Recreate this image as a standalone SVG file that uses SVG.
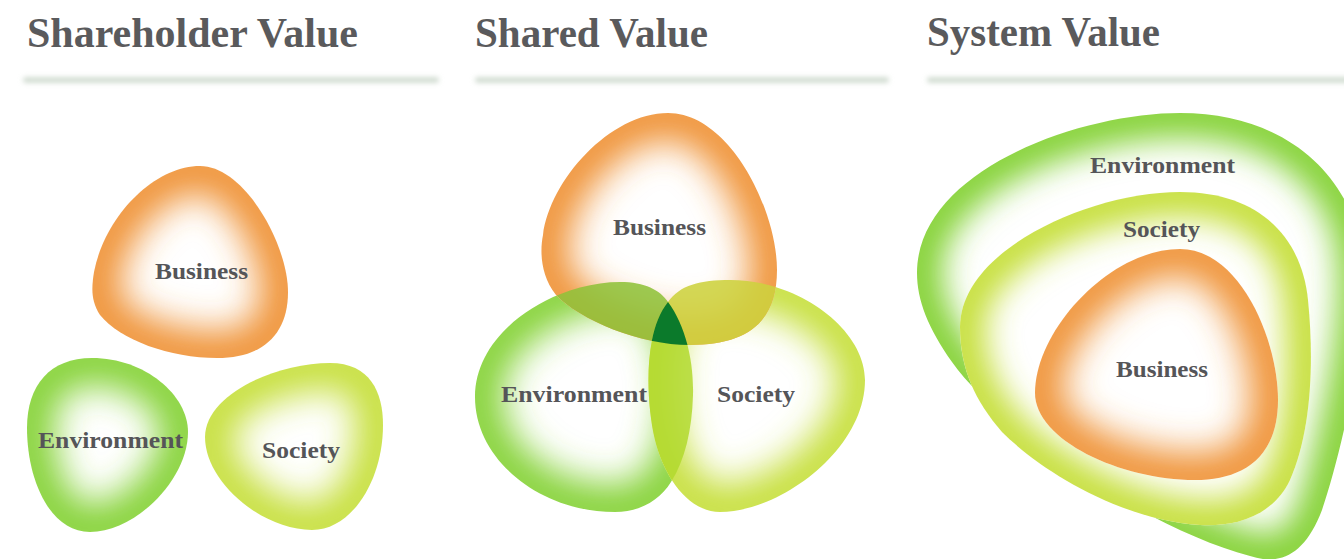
<svg xmlns="http://www.w3.org/2000/svg" width="1344" height="559" viewBox="0 0 1344 559">
<style>
.title{font-family:"Liberation Serif","Times New Roman",serif;font-weight:bold;font-size:43px;fill:#5a5a5c}
.lbl{font-family:"Liberation Serif","Times New Roman",serif;font-weight:bold;font-size:24px;fill:#555558}
.bar{fill:#d2ddd2;filter:url(#blur)}
.base{fill:#ffffff}
.eO{fill:none;stroke:#ef9236;stroke-width:54;filter:url(#glow)}
.eE{fill:none;stroke:#84d236;stroke-width:54;filter:url(#glow)}
.eS{fill:none;stroke:#c6df3a;stroke-width:54;filter:url(#glow)}
.eE3{fill:none;stroke:#84d236;stroke-width:50;filter:url(#glow3)}
.eS3{fill:none;stroke:#c6df3a;stroke-width:50;filter:url(#glow3)}
</style>
<defs>
<filter id="blur" filterUnits="userSpaceOnUse" x="0" y="60" width="1344" height="40"><feGaussianBlur stdDeviation="2.5"/></filter>
<filter id="glow" filterUnits="userSpaceOnUse" x="-100" y="-100" width="1544" height="759"><feGaussianBlur stdDeviation="18"/></filter>
<filter id="glow3" filterUnits="userSpaceOnUse" x="-100" y="-100" width="1544" height="759"><feGaussianBlur stdDeviation="16"/></filter>
<path id="p1B" d="M 200,166 C 245,166 288,245 288,292 C 288,335 262,358 217,358 C 170,358 120,340 100,315 C 90,300 92,285 94,272 C 105,215 155,166 200,166 Z"/>
<path id="p1E" d="M 92,358 C 145,358 188,395 188,432 C 188,480 135,532 90,532 C 50,532 27,480 27,428 C 27,385 50,358 92,358 Z"/>
<path id="p1S" d="M 205,437 C 205,395 275,363 330,363 C 370,363 383,392 383,425 C 383,480 352,530 312,530 C 262,530 205,482 205,437 Z"/>
<path id="pB2" d="M 668,113 C 730,113 777,210 777,270 C 777,320 750,345 690,345 C 640,345 580,320 556,295 C 540,275 540,250 543,235 C 550,180 610,113 668,113 Z"/>
<path id="pE2" d="M 475,397 C 475,330 555,282 620,282 C 645,282 660,290 668,302 C 685,325 694,360 693,395 C 692,430 685,460 671,482 C 660,500 640,512 615,512 C 540,512 475,460 475,397 Z"/>
<path id="pS2" d="M 668,302 C 680,285 700,280 730,280 C 800,280 865,330 865,380 C 865,450 780,512 720,512 C 690,512 665,480 655,440 C 648,410 646,370 652,340 C 655,325 660,312 668,302 Z"/>
<path id="p3E" d="M 917,273 C 917,170 1080,113 1180,113 C 1285,113 1352,175 1362,255 C 1370,330 1342,450 1322,510 C 1305,555 1280,566 1250,556 C 1150,530 1000,430 952,362 C 928,328 917,300 917,273 Z"/>
<path id="p3S" d="M 960,327 C 960,250 1090,192 1180,192 C 1262,192 1302,240 1308,300 C 1314,360 1312,430 1290,480 C 1272,518 1232,527 1200,525 C 1120,520 1040,470 1002,432 C 976,402 960,370 960,327 Z"/>
<path id="p3B" d="M 1180,249 C 1240,249 1278,340 1278,400 C 1278,460 1240,480 1195,480 C 1120,480 1035,440 1035,393 C 1035,330 1110,249 1180,249 Z"/>
<clipPath id="c1B"><use href="#p1B"/></clipPath>
<clipPath id="c1E"><use href="#p1E"/></clipPath>
<clipPath id="c1S"><use href="#p1S"/></clipPath>
<clipPath id="cB2"><use href="#pB2"/></clipPath>
<clipPath id="cE2"><use href="#pE2"/></clipPath>
<clipPath id="cS2"><use href="#pS2"/></clipPath>
<clipPath id="c3E"><use href="#p3E"/></clipPath>
<clipPath id="c3S"><use href="#p3S"/></clipPath>
<clipPath id="c3B"><use href="#p3B"/></clipPath>
</defs>

<g id="titles">
<text class="title" x="27" y="47" textLength="331" lengthAdjust="spacingAndGlyphs">Shareholder Value</text>
<text class="title" x="475" y="47" textLength="233" lengthAdjust="spacingAndGlyphs">Shared Value</text>
<text class="title" x="927" y="46" textLength="233" lengthAdjust="spacingAndGlyphs">System Value</text>
<rect class="bar" x="23" y="77" width="416" height="6" rx="3"/>
<rect class="bar" x="475" y="77" width="414" height="6" rx="3"/>
<rect class="bar" x="927" y="77" width="430" height="6" rx="3"/>
</g>

<!-- Panel 1 -->
<g id="sh-business">
<use href="#p1B" class="base"/>
<g clip-path="url(#c1B)"><use href="#p1B" class="eO"/></g>
<text class="lbl" x="155" y="279" textLength="93" lengthAdjust="spacingAndGlyphs">Business</text>
</g>
<g id="sh-environment">
<use href="#p1E" class="base"/>
<g clip-path="url(#c1E)"><use href="#p1E" class="eE"/></g>
<text class="lbl" x="38" y="448" textLength="145" lengthAdjust="spacingAndGlyphs">Environment</text>
</g>
<g id="sh-society">
<use href="#p1S" class="base"/>
<g clip-path="url(#c1S)"><use href="#p1S" class="eS"/></g>
<text class="lbl" x="262" y="458" textLength="78" lengthAdjust="spacingAndGlyphs">Society</text>
</g>

<!-- Panel 2 -->
<g id="sv-environment">
<use href="#pE2" class="base"/>
<g clip-path="url(#cE2)"><use href="#pE2" class="eE"/></g>
</g>
<g id="sv-society">
<use href="#pS2" class="base"/>
<g clip-path="url(#cS2)"><use href="#pS2" class="eS"/></g>
</g>
<g id="sv-business">
<use href="#pB2" class="base"/>
<g clip-path="url(#cB2)"><use href="#pB2" class="eO"/></g>
</g>
<g id="sv-overlaps">
<g clip-path="url(#cE2)"><use href="#pS2" fill="#b2d92e" opacity="0.85"/></g>
<g clip-path="url(#cB2)"><use href="#pE2" fill="#90c23a" opacity="0.88"/></g>
<g clip-path="url(#cB2)"><use href="#pS2" fill="#cdd23e" opacity="0.88"/></g>
<g clip-path="url(#cB2)"><g clip-path="url(#cE2)"><use href="#pS2" fill="#0b7a2b"/></g></g>
</g>
<g id="sv-labels">
<text class="lbl" x="613" y="235" textLength="93" lengthAdjust="spacingAndGlyphs">Business</text>
<text class="lbl" x="501" y="402" textLength="146" lengthAdjust="spacingAndGlyphs">Environment</text>
<text class="lbl" x="717" y="402" textLength="78" lengthAdjust="spacingAndGlyphs">Society</text>
</g>

<!-- Panel 3 -->
<g id="sy-environment">
<use href="#p3E" class="base"/>
<g clip-path="url(#c3E)"><use href="#p3E" class="eE3"/></g>
<text class="lbl" x="1090" y="173" textLength="145" lengthAdjust="spacingAndGlyphs">Environment</text>
</g>
<g id="sy-society">
<use href="#p3S" class="base"/>
<g clip-path="url(#c3S)"><use href="#p3S" class="eS3"/></g>
<text class="lbl" x="1123" y="237" textLength="77" lengthAdjust="spacingAndGlyphs">Society</text>
</g>
<g id="sy-business">
<use href="#p3B" class="base"/>
<g clip-path="url(#c3B)"><use href="#p3B" class="eO"/></g>
<text class="lbl" x="1116" y="377" textLength="92" lengthAdjust="spacingAndGlyphs">Business</text>
</g>
<g id="connectors"/>
</svg>
